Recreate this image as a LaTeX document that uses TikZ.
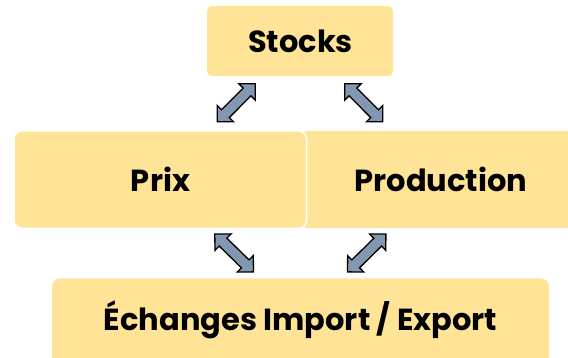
\documentclass[tikz,border=0pt]{standalone}
\usepackage{fontspec}
\setmainfont{Poppins}[Ligatures={NoCommon}]
\usetikzlibrary{calc}
\definecolor{boxfill}{HTML}{FFE497}
\definecolor{arrowblue}{HTML}{8497B0}
\tikzset{
  box/.style={fill=boxfill, rounded corners=8pt},
  boxline/.style={draw=white, line width=1.5pt},
  label/.style={font=\fontsize{30.5}{36}\selectfont\bfseries, inner sep=0pt},
  blockarrow/.style={draw=black, line width=1.3pt, fill=arrowblue, line join=miter},
}
\newcommand\drawblockarrow[2]{%
  \path[blockarrow] let \p1=(#1), \p2=(#2),
    \n1={atan2(\y2-\y1,\x2-\x1)}, \n2={veclen(\x2-\x1,\y2-\y1)} in
    [shift={(\p1)}, rotate=\n1]
    (0pt,0pt) -- (11.5pt,11.5pt) -- (11.5pt,5.5pt) -- ({\n2-11.5pt},5.5pt)
    -- ({\n2-11.5pt},11.5pt) -- ({\n2},0pt) -- ({\n2-11.5pt},-11.5pt)
    -- ({\n2-11.5pt},-5.5pt) -- (11.5pt,-5.5pt) -- (11.5pt,-11.5pt) -- cycle;}
\begin{document}
\begin{tikzpicture}[x=1pt,y=-1pt]
\useasboundingbox (0,0) rectangle (568,358);
\clip (0,0) rectangle (568,358);
% boxes
\path[box, rounded corners=5pt] (207,6) rectangle (393,76);
\node[label] (stocks) at (300.5,41) {Stocks};
\path[box] (300,131) rectangle (590,228);
\node[label] (production) at (441,179) {Production};
\path[box, boxline] (14,131) rectangle (306.5,228.3);
\node[label] (prix) at (160.5,179) {Prix};
\path[box] (52,278.5) rectangle (549,380);
\node[label] (echanges) at (300.5,320) {Échanges Import / Export};
% arrow end points
\coordinate (a1s) at (255.2,83.8);
\coordinate (a1e) at (217.3,121.8);
\coordinate (a2s) at (344.8,83.8);
\coordinate (a2e) at (382.7,121.8);
\coordinate (a3s) at (214.8,234.1);
\coordinate (a3e) at (253.5,271.9);
\coordinate (a4s) at (385.9,234.1);
\coordinate (a4e) at (347.5,271.9);
\drawblockarrow{a1s}{a1e}
\drawblockarrow{a2s}{a2e}
\drawblockarrow{a3s}{a3e}
\drawblockarrow{a4s}{a4e}
\end{tikzpicture}
\end{document}
